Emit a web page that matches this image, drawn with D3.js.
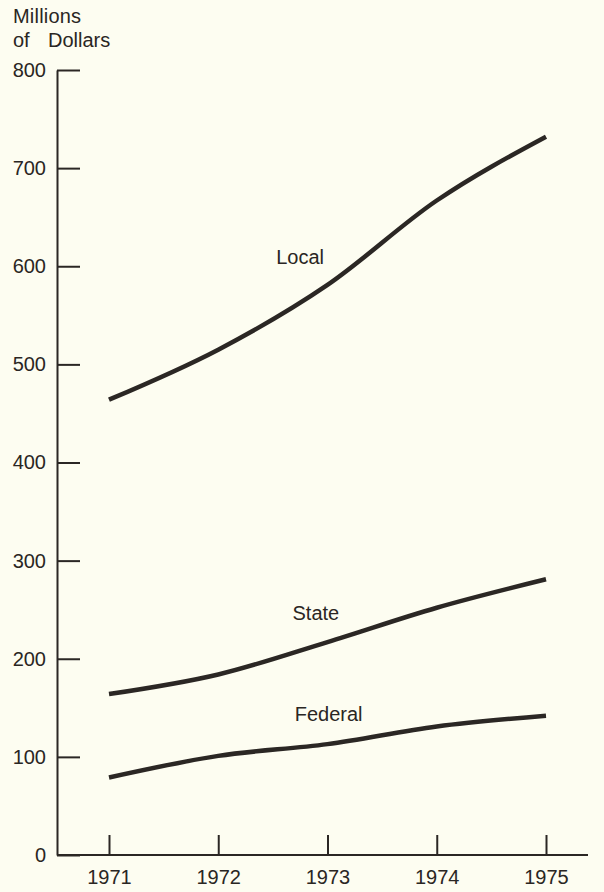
<!DOCTYPE html>
<html>
<head>
<meta charset="utf-8">
<script src="https://cdn.jsdelivr.net/npm/d3@7"></script>
<style>
  body { margin: 0; background: #fdfdf1; }
  svg { display: block; }
  text { font-family: "Liberation Sans", Arial, sans-serif; fill: #2a2623; }
</style>
</head>
<body>
<div id="wrapper"></div>
<script>
// data (millions of dollars)
const years = [1971, 1972, 1973, 1974, 1975];
const local = [464, 515, 581, 667, 732];
const state = [164, 184, 217, 252, 281];
const federal = [79, 101, 113, 131, 142];
const yTicks = [0, 100, 200, 300, 400, 500, 600, 700, 800];

const seriesNames = ["Local", "State", "Federal"];
const seriesValues = [local, state, federal];
// where each label sits: year position and value
const labelAt = [[1972.53, 602], [1972.68, 240], [1972.7, 137]];

const dimensions = {
  width: 604,
  height: 892,
  margin: { top: 70, right: 16, bottom: 37, left: 57 },
};
dimensions.boundedWidth = dimensions.width - dimensions.margin.left - dimensions.margin.right;
dimensions.boundedHeight = dimensions.height - dimensions.margin.top - dimensions.margin.bottom;

const svg = d3.select("#wrapper")
  .append("svg")
  .attr("width", dimensions.width)
  .attr("height", dimensions.height);

const bounds = svg.append("g")
  .attr("transform", `translate(${dimensions.margin.left},${dimensions.margin.top})`);

// scales
const yScale = d3.scaleLinear()
  .domain([0, 800])
  .range([dimensions.boundedHeight, 0]);

const xScale = d3.scaleLinear()
  .domain([1971, 1975])
  .range([52, 489]);

// lines
const lineGenerator = d3.line()
  .x((d, i) => xScale(years[i]))
  .y(d => yScale(d))
  .curve(d3.curveMonotoneX);

bounds.selectAll(".series")
  .data(seriesValues)
  .join("path")
  .attr("class", "series")
  .attr("d", d => lineGenerator(d))
  .attr("fill", "none")
  .attr("stroke", "#2b2724")
  .attr("stroke-width", 4.5)
  .attr("stroke-linecap", "butt");

bounds.selectAll(".series-label")
  .data(seriesNames)
  .join("text")
  .attr("class", "series-label")
  .attr("x", (d, i) => xScale(labelAt[i][0]))
  .attr("y", (d, i) => yScale(labelAt[i][1]))
  .attr("font-size", 20)
  .text(d => d);

// y axis
const yAxisGenerator = d3.axisLeft(yScale)
  .tickValues(yTicks)
  .tickSizeInner(-23)
  .tickSizeOuter(0)
  .tickPadding(11)
  .tickFormat(d3.format("d"));

const yAxis = bounds.append("g").call(yAxisGenerator);
yAxis.select(".domain").attr("stroke", "#2b2724").attr("stroke-width", 2);
yAxis.selectAll(".tick line").attr("stroke", "#2b2724").attr("stroke-width", 2);
yAxis.selectAll(".tick text")
  .attr("font-size", 20)
  .attr("font-family", "Liberation Sans, Arial, sans-serif")
  .attr("fill", "#2a2623");

// x axis
const xAxisGenerator = d3.axisBottom(xScale)
  .tickValues(years)
  .tickSizeInner(-20)
  .tickSizeOuter(0)
  .tickPadding(15)
  .tickFormat(d3.format("d"));

const xAxis = bounds.append("g")
  .attr("transform", `translate(0,${dimensions.boundedHeight})`)
  .call(xAxisGenerator);
xAxis.select(".domain").remove();
xAxis.append("line")
  .attr("x1", 0)
  .attr("x2", dimensions.boundedWidth)
  .attr("stroke", "#2b2724")
  .attr("stroke-width", 2);
xAxis.selectAll(".tick line").attr("stroke", "#2b2724").attr("stroke-width", 2);
xAxis.selectAll(".tick text")
  .attr("font-size", 20)
  .attr("font-family", "Liberation Sans, Arial, sans-serif")
  .attr("fill", "#2a2623");

// axis title
svg.append("text")
  .attr("x", 13)
  .attr("y", 23)
  .attr("font-size", 20)
  .attr("letter-spacing", 0.2)
  .text("Millions");
const title2 = svg.append("text")
  .attr("y", 47)
  .attr("font-size", 20);
title2.append("tspan").attr("x", 13).text("of");
title2.append("tspan").attr("x", 48).text("Dollars");
</script>
</body>
</html>
